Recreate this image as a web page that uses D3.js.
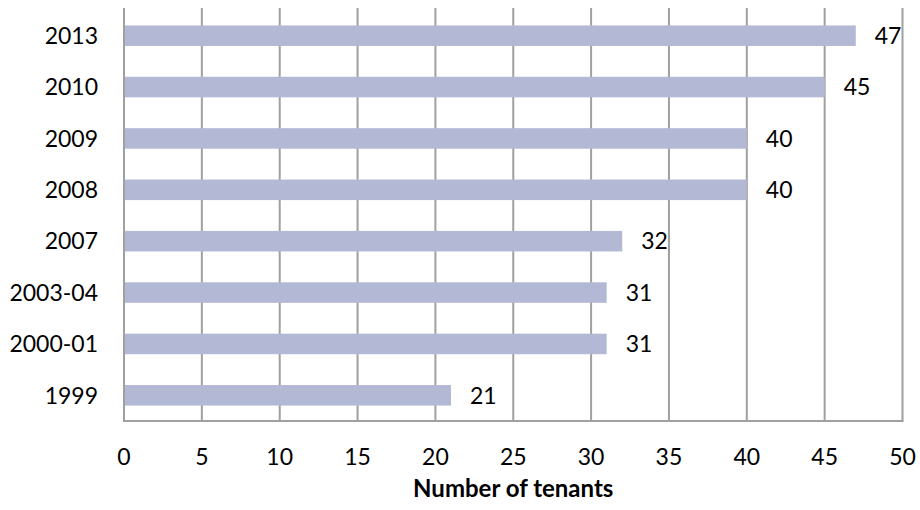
<!DOCTYPE html>
<html>
<head>
<meta charset="utf-8">
<script src="https://cdn.jsdelivr.net/npm/d3@7"></script>
<style>
  html, body { margin: 0; padding: 0; background: #fff; }
  svg text { font-family: Lato, "Open Sans", sans-serif; fill: #000; }
</style>
</head>
<body>
<svg id="chart" width="920" height="510"></svg>
<script>
const categories = ["2013", "2010", "2009", "2008", "2007", "2003-04", "2000-01", "1999"];
const values = [47, 45, 40, 40, 32, 31, 31, 21];
const xTicks = [0, 5, 10, 15, 20, 25, 30, 35, 40, 45, 50];
const xTitle = "Number of tenants";

const svg = d3.select("#chart");
const plotLeft = 124, plotRight = 902.5, plotTop = 8, plotBottom = 421;

const x = d3.scaleLinear().domain([0, 50]).range([plotLeft, plotRight]);
const y = d3.scaleBand().domain(categories).range([10, plotBottom]).paddingInner(0.6).paddingOuter(0.3);

// gridlines
svg.append("g").selectAll("line").data(xTicks).join("line")
  .attr("x1", d => x(d)).attr("x2", d => x(d))
  .attr("y1", plotTop).attr("y2", plotBottom)
  .attr("stroke", "#a0a0a0").attr("stroke-width", 2);

// bottom axis line
svg.append("line")
  .attr("x1", plotLeft - 1).attr("x2", plotRight + 1)
  .attr("y1", plotBottom).attr("y2", plotBottom)
  .attr("stroke", "#a0a0a0").attr("stroke-width", 2);

// bars
svg.append("g").selectAll("rect").data(values).join("rect")
  .attr("x", x(0) + 1)
  .attr("y", (d, i) => y(categories[i]))
  .attr("width", d => x(d) - x(0) - 1)
  .attr("height", y.bandwidth())
  .attr("fill", "#b3b9d4");

// value labels
svg.append("g").selectAll("text").data(values).join("text")
  .attr("x", d => x(d) + 19)
  .attr("y", (d, i) => y(categories[i]) + y.bandwidth() / 2)
  .attr("dy", "0.36em")
  .attr("font-size", 23)
  .text(d => d);

// category labels
svg.append("g").selectAll("text").data(categories).join("text")
  .attr("x", 98)
  .attr("y", d => y(d) + y.bandwidth() / 2)
  .attr("dy", "0.36em")
  .attr("text-anchor", "end")
  .attr("font-size", 23)
  .text(d => d);

// x tick labels
svg.append("g").selectAll("text").data(xTicks).join("text")
  .attr("x", d => x(d))
  .attr("y", 465)
  .attr("text-anchor", "middle")
  .attr("font-size", 23)
  .text(d => d);

// axis title
svg.append("text")
  .attr("x", (plotLeft + plotRight) / 2)
  .attr("y", 497)
  .attr("text-anchor", "middle")
  .attr("font-size", 24)
  .attr("font-weight", "bold")
  .text(xTitle);
</script>
</body>
</html>
